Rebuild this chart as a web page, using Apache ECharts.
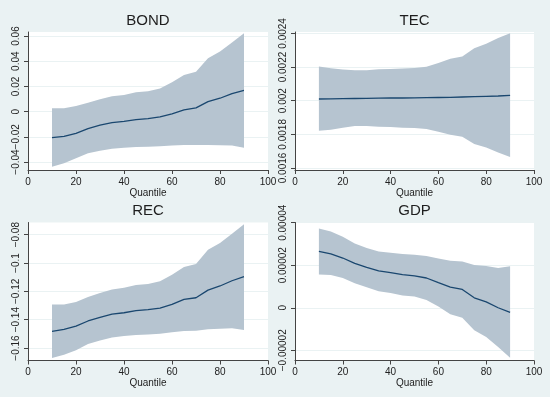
<!DOCTYPE html>
<html><head><meta charset="utf-8">
<script src="https://cdn.jsdelivr.net/npm/echarts@6/dist/echarts.min.js"></script>
<style>html,body{margin:0;padding:0;background:#EAF2F3}#c{width:550px;height:397px}</style>
</head><body><div id="c"></div>
<script>
// ---- data ----
const quantiles = [10,15,20,25,30,35,40,45,50,55,60,65,70,75,80,85,90];

const bondCoef  = [-0.0206,-0.0196,-0.0172,-0.0135,-0.0108,-0.0087,-0.0077,-0.0063,-0.0056,-0.0042,-0.0019,0.0013,0.0029,0.0079,0.0106,0.0143,0.0169];
const bondUpper = [0.0026,0.0026,0.0045,0.0071,0.0098,0.0122,0.0132,0.0153,0.0161,0.0183,0.0233,0.0291,0.0317,0.0423,0.0476,0.0548,0.0622];
const bondLower = [-0.0437,-0.0410,-0.0370,-0.0331,-0.0310,-0.0294,-0.0286,-0.0280,-0.0278,-0.0275,-0.0270,-0.0265,-0.0265,-0.0265,-0.0267,-0.0270,-0.0286];

const tecCoef  = [0.002010,0.002011,0.002012,0.002013,0.002014,0.002015,0.002016,0.002016,0.002017,0.002018,0.002019,0.002020,0.002022,0.002024,0.002026,0.002028,0.002031];
const tecUpper = [0.002203,0.002193,0.002185,0.002181,0.002181,0.002187,0.002189,0.002191,0.002195,0.002201,0.002224,0.002250,0.002262,0.002312,0.002338,0.002373,0.002401];
const tecLower = [0.001821,0.001827,0.001839,0.001849,0.001849,0.001845,0.001843,0.001839,0.001837,0.001831,0.001815,0.001797,0.001786,0.001742,0.001722,0.001692,0.001666];

const recCoef  = [-0.1482,-0.1468,-0.1445,-0.1409,-0.1384,-0.1360,-0.1351,-0.1336,-0.1329,-0.1318,-0.1292,-0.1256,-0.1245,-0.1191,-0.1162,-0.1125,-0.1096];
const recUpper = [-0.1292,-0.1292,-0.1275,-0.1240,-0.1212,-0.1186,-0.1174,-0.1155,-0.1148,-0.1129,-0.1082,-0.1028,-0.1007,-0.0906,-0.0859,-0.0793,-0.0727];
const recLower = [-0.1671,-0.1647,-0.1616,-0.1572,-0.1546,-0.1525,-0.1515,-0.1508,-0.1504,-0.1499,-0.1489,-0.1480,-0.1478,-0.1468,-0.1464,-0.1461,-0.1473];

const gdpCoef  = [2.65e-5,2.53e-5,2.34e-5,2.09e-5,1.90e-5,1.73e-5,1.65e-5,1.56e-5,1.50e-5,1.40e-5,1.18e-5,0.97e-5,0.86e-5,0.47e-5,0.28e-5,0.0,-0.22e-5];
const gdpUpper = [3.73e-5,3.59e-5,3.34e-5,3.02e-5,2.81e-5,2.65e-5,2.59e-5,2.53e-5,2.49e-5,2.43e-5,2.32e-5,2.21e-5,2.18e-5,2.01e-5,1.96e-5,1.87e-5,1.95e-5];
const gdpLower = [1.56e-5,1.54e-5,1.40e-5,1.15e-5,0.97e-5,0.78e-5,0.70e-5,0.58e-5,0.53e-5,0.37e-5,0.06e-5,-0.30e-5,-0.47e-5,-1.06e-5,-1.37e-5,-1.84e-5,-2.35e-5];

const panelTitles = ['BOND','TEC','REC','GDP'];
const xTicks = [0,20,40,60,80,100];
const bondTicks = [-0.04,-0.02,0,0.02,0.04,0.06];
const bondLabels = ['\u22120.04','\u22120.02','0','0.02','0.04','0.06'];
const tecTicks = [0.0016,0.0018,0.002,0.0022,0.0024];
const tecLabels = ['0.0016','0.0018','0.002','0.0022','0.0024'];
const recTicks = [-0.16,-0.14,-0.12,-0.1,-0.08];
const recLabels = ['\u22120.16','\u22120.14','\u22120.12','\u22120.1','\u22120.08'];
const gdpTicks = [-0.00002,0,0.00002,0.00004];
const gdpLabels = ['\u22120.00002','0','0.00002','0.00004'];

// ---- layout / style ----
const FONT = 'Liberation Sans';
const BG = '#EAF2F3';
const NAVY = '#1a476f';
const BAND = '#b6c4d0';
const grids = [
  {left: 28, top: 32, width: 240, height: 138},
  {left: 295, top: 32, width: 239, height: 138},
  {left: 28, top: 222.5, width: 240, height: 138},
  {left: 295, top: 222.5, width: 239, height: 138}
];
const yRanges = [
  [-0.04635, 0.06317],
  [0.001588, 0.0024083],
  [-0.1688, -0.07139],
  [-0.0000248, 0.0000401]
];
const panels = [
  {coef: bondCoef, upper: bondUpper, lower: bondLower, ticks: bondTicks, labels: bondLabels},
  {coef: tecCoef, upper: tecUpper, lower: tecLower, ticks: tecTicks, labels: tecLabels},
  {coef: recCoef, upper: recUpper, lower: recLower, ticks: recTicks, labels: recLabels},
  {coef: gdpCoef, upper: gdpUpper, lower: gdpLower, ticks: gdpTicks, labels: gdpLabels}
];

const zip = (xs, ys) => xs.map((x, i) => [x, ys[i]]);

const option = {
  animation: false,
  backgroundColor: BG,
  title: panelTitles.map((t, i) => ({
    text: t,
    left: grids[i].left + grids[i].width / 2,
    top: grids[i].top - 19,
    textAlign: 'center',
    padding: 0,
    textStyle: {fontFamily: FONT, fontSize: 15, fontWeight: 'normal', color: '#1e1e1e'}
  })),
  grid: grids.map(g => Object.assign({show: true, backgroundColor: '#ffffff', borderWidth: 0, containLabel: false}, g)),
  xAxis: grids.map((g, i) => ({
    type: 'value', gridIndex: i, min: 0, max: 100, interval: 20,
    name: 'Quantile', nameLocation: 'middle', nameGap: 17,
    nameTextStyle: {fontFamily: FONT, fontSize: 10, color: '#222'},
    axisLine: {show: true, onZero: false, lineStyle: {color: '#444', width: 1}},
    axisTick: {show: true, length: 4, lineStyle: {color: '#444'}},
    axisLabel: {fontFamily: FONT, fontSize: 10, color: '#222', margin: 7},
    splitLine: {show: false}
  })),
  yAxis: panels.map((p, i) => ({
    type: 'value', gridIndex: i, min: yRanges[i][0], max: yRanges[i][1],
    axisLine: {show: true, onZero: false, lineStyle: {color: '#444', width: 1}},
    axisTick: {show: true, length: 4, lineStyle: {color: '#444'}, customValues: p.ticks},
    axisLabel: {
      fontFamily: FONT, fontSize: 10, color: '#222', margin: 7, rotate: 90,
      customValues: p.ticks,
      formatter: (v) => {
        let best = 0, bd = Infinity;
        p.ticks.forEach((t, k) => { const d = Math.abs(t - v); if (d < bd) { bd = d; best = k; } });
        return p.labels[best];
      }
    },
    splitLine: {show: true, lineStyle: {color: BG, width: 1}}
  })),
  series: []
};

panels.forEach((p, i) => {
  option.series.push({
    type: 'custom', xAxisIndex: i, yAxisIndex: i, silent: true, z: 2,
    data: quantiles.map((q, k) => [q, p.lower[k], p.upper[k]]),
    encode: {x: 0, y: [1, 2]},
    renderItem: (params, api) => {
      if (params.dataIndex !== 0) return null;
      const pts = [];
      for (let k = 0; k < quantiles.length; k++) pts.push(api.coord([quantiles[k], p.upper[k]]));
      for (let k = quantiles.length - 1; k >= 0; k--) pts.push(api.coord([quantiles[k], p.lower[k]]));
      return {type: 'polygon', shape: {points: pts}, style: {fill: BAND, stroke: null}};
    }
  });
  option.series.push({
    type: 'line', xAxisIndex: i, yAxisIndex: i, data: zip(quantiles, p.coef),
    symbol: 'none', silent: true, z: 5,
    lineStyle: {color: NAVY, width: 1.3}
  });
});

const chart = echarts.init(document.getElementById('c'), null, {renderer: 'canvas'});
chart.setOption(option);
</script>
</body></html>
